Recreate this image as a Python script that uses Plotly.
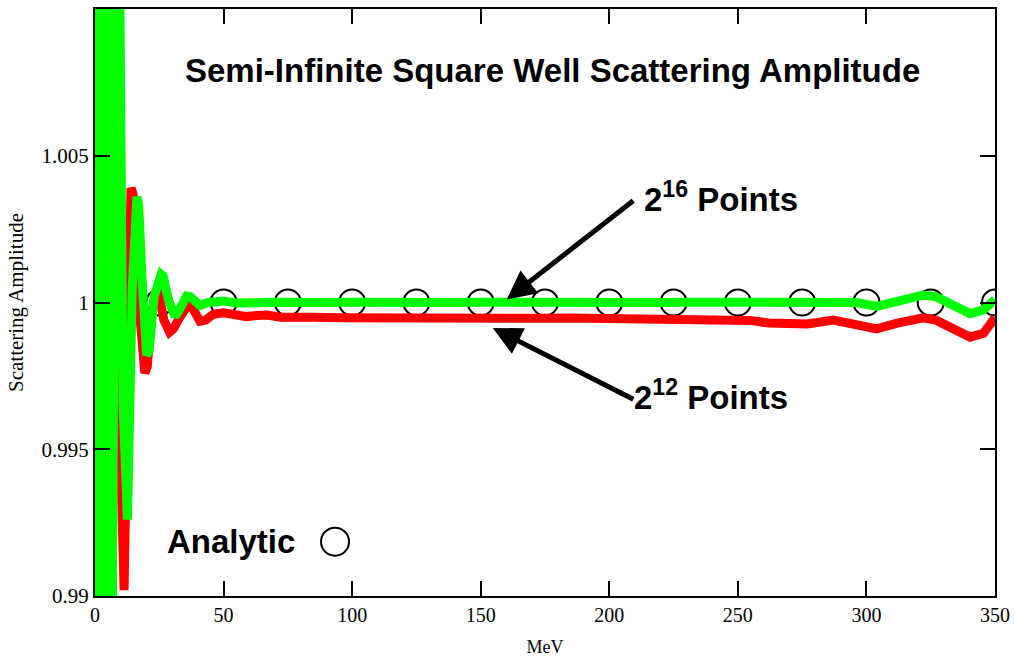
import plotly.graph_objects as go

# ---------------- data ----------------
# 2^16 points curve (green)
green_mev = [0, 1.2, 2.4, 3.6, 4.8, 6.3, 8.6, 9.7, 10.9, 12.6, 13.2, 14.5, 16.3,
             17.0, 18.3, 20.1, 21.0, 23.0, 25.7, 26.5, 28.5, 31.1, 32.5, 35.6,
             37.0, 40.8, 44, 47, 50, 55, 60, 65, 70, 75, 80, 90, 100, 110, 120,
             130, 140, 150, 160, 170, 180, 190, 200, 210, 220, 230, 240, 254.7,
             267.7, 280, 287.1, 296, 304, 312, 322, 327, 332.5, 340.3, 345.5, 350]
green_amp = [1.02, 0.98, 1.02, 0.98, 1.02, 0.982, 1.02, 1.01, 0.9966, 0.9926,
             0.9966, 1.0005, 1.0036, 1.0033, 1.0008, 0.9982, 0.99835, 1.0002,
             1.00096, 1.0009, 1.0001, 0.99953, 0.9997, 1.00022, 1.0002, 0.9999,
             1.0, 1.00006, 1.00005, 0.99998, 1.00002, 1.0, 1.00001, 0.99999,
             1.00001, 1.0, 1.00001, 0.99999, 1.0, 1.00001, 1.0, 1.00001, 1.0, 1.0,
             1.00001, 1.0, 1.00001, 1.0, 1.0, 1.00001, 1.0, 1.0, 1.00002, 1.00002,
             1.00003, 1.0, 0.99987, 1.00005, 1.00025, 1.0002, 0.99993, 0.99962,
             0.99975, 1.0001]

# 2^12 points curve (red)
red_mev = [0, 1.3, 2.6, 3.9, 5.2, 6.6, 8.5, 9.4, 11.3, 12.5, 14.0, 14.8, 16.5,
           19.4, 20.3, 22.0, 23.7, 24.8, 26.8, 29.0, 30.5, 33.0, 36.3, 38.0,
           40.8, 43, 46, 50, 55, 59, 63, 67, 72, 78, 85, 95, 105, 115, 125, 135,
           145, 155, 165, 175, 185, 195, 208, 215, 230, 245, 254.7, 262, 267.7,
           277, 287.1, 296, 304, 312, 322.1, 327, 332.5, 340.3, 345.5, 350]
red_amp = [0.98, 1.02, 0.98, 1.02, 0.98, 1.02, 1.012, 0.9966, 0.9902, 0.9968,
           1.0039, 1.0037, 1.0005, 0.99759, 0.9978, 0.9996, 1.0004, 1.0003,
           0.9994, 0.99899, 0.9991, 0.9995, 0.99993, 0.9998, 0.99936, 0.9994,
           0.9996, 0.99965, 0.99958, 0.99952, 0.99956, 0.99957, 0.9995, 0.99953,
           0.9995, 0.99948, 0.99947, 0.99948, 0.99947, 0.99947, 0.99948, 0.99947,
           0.99947, 0.99946, 0.99947, 0.99946, 0.99945, 0.99937, 0.99937,
           0.99935, 0.99939, 0.9993, 0.99929, 0.99927, 0.9994, 0.99925, 0.9991,
           0.9993, 0.99948, 0.9994, 0.99913, 0.99882, 0.99895, 0.99948]

# analytic result (open circles)
analytic_mev = [25, 50, 75, 100, 125, 150, 175, 200, 225, 250, 275, 300, 325, 350]
analytic_amp = [1.0] * len(analytic_mev)

x_tickvals = [0, 50, 100, 150, 200, 250, 300, 350]
y_tickvals = [0.99, 0.995, 1.0, 1.005]
y_ticktext = ["0.99", "0.995", "1", "1.005"]

# ---------------- figure ----------------
fig = go.Figure()

fig.add_trace(go.Scatter(
    x=analytic_mev, y=analytic_amp, mode="markers", name="Analytic",
    marker=dict(symbol="circle-open", size=26, color="black",
                line=dict(width=2, color="black")),
    showlegend=False))

fig.add_trace(go.Scatter(
    x=red_mev, y=red_amp, mode="lines", name="2^12 Points",
    line=dict(color="#ff0000", width=9), showlegend=False))

fig.add_trace(go.Scatter(
    x=green_mev, y=green_amp, mode="lines", name="2^16 Points",
    line=dict(color="#00ff00", width=9), showlegend=False))

serif = "Liberation Serif, Times New Roman, serif"
sans = "Liberation Sans, Arial, sans-serif"

fig.update_xaxes(
    range=[0, 350], tickvals=x_tickvals, ticks="inside", ticklen=15, tickwidth=2,
    tickcolor="black", showline=True, linewidth=2, linecolor="black",
    mirror="allticks", showgrid=False, zeroline=False,
    tickfont=dict(family=serif, size=20, color="black"),
    title=dict(text="MeV", font=dict(family=serif, size=18, color="black"),
               standoff=18))

fig.update_yaxes(
    range=[0.99, 1.01], tickvals=y_tickvals, ticktext=y_ticktext,
    ticks="inside", ticklen=15, tickwidth=2, tickcolor="black",
    showline=True, linewidth=2, linecolor="black", mirror="allticks",
    showgrid=False, zeroline=False,
    tickfont=dict(family=serif, size=21, color="black"),
    title=dict(text="Scattering Amplitude",
               font=dict(family=serif, size=21, color="black"), standoff=12))

bold_font = dict(family=sans, size=33, color="black")


def label(text, x, y):
    fig.add_annotation(text=text, xref="paper", yref="paper", x=x, y=y,
                       xanchor="center", yanchor="middle", showarrow=False,
                       font=bold_font)


label("<b>Semi-Infinite Square Well Scattering Amplitude</b>", 0.508, 0.896)
label("<b>2<sup>16</sup> Points</b>", 0.6956, 0.680)
label("<b>2<sup>12</sup> Points</b>", 0.6844, 0.342)
label("<b>Analytic</b>", 0.1511, 0.0925)

fig.add_annotation(text="", x=160.1, y=1.0001, xref="x", yref="y",
                   ax=128, ay=-100, showarrow=True, arrowhead=2,
                   arrowsize=1.15, arrowwidth=5, arrowcolor="black")
fig.add_annotation(text="", x=154.7, y=0.99913, xref="x", yref="y",
                   ax=142, ay=72, showarrow=True, arrowhead=2,
                   arrowsize=1.15, arrowwidth=5, arrowcolor="black")

fig.add_shape(type="circle", xref="paper", yref="paper",
              xsizemode="pixel", ysizemode="pixel",
              xanchor=0.2667, yanchor=0.0925, x0=-14, x1=14, y0=-14, y1=14,
              line=dict(color="black", width=2))

fig.update_layout(
    width=1015, height=657,
    margin=dict(l=95, r=20, t=9, b=61, autoexpand=False),
    paper_bgcolor="white", plot_bgcolor="white",
    showlegend=False)

fig.write_html("out.html",
               config={"displayModeBar": False},
               post_script="document.body.style.margin='0px';"
                           "document.body.style.overflow='hidden';")
